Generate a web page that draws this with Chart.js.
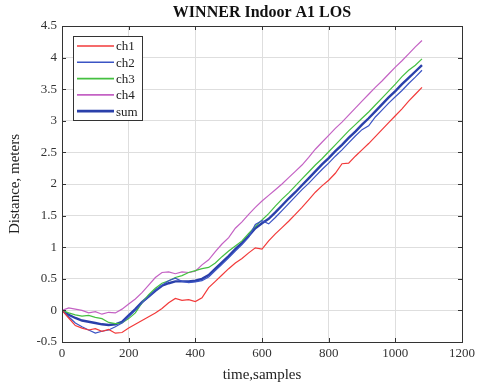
<!DOCTYPE html>
<html>
<head>
<meta charset="utf-8">
<script src="https://cdn.jsdelivr.net/npm/chart.js@4.4.1/dist/chart.umd.min.js"></script>
<style>
    html, body { margin: 0; padding: 0; background: #fff; }
    #wrap { width: 483px; height: 388px; }
</style>
</head>
<body>
<div id="wrap"><canvas id="chart" width="483" height="388"></canvas></div>
<script>
// sample index (every 20 samples)
const samples = [0, 20, 40, 60, 80, 100, 120, 140, 160, 180, 200, 220, 240, 260, 280, 300, 320, 340, 360, 380,
    400, 420, 440, 460, 480, 500, 520, 540, 560, 580, 600, 620, 640, 660, 680, 700, 720, 740, 760, 780,
    800, 820, 840, 860, 880, 900, 920, 940, 960, 980, 1000, 1020, 1040, 1060, 1080];

const ch1 = [0, -0.12, -0.24, -0.28, -0.31, -0.29, -0.33, -0.30, -0.36, -0.35, -0.28, -0.22, -0.16, -0.10, -0.04, 0.03, 0.12, 0.19, 0.16, 0.17,
    0.14, 0.20, 0.36, 0.46, 0.56, 0.66, 0.75, 0.82, 0.91, 0.99, 0.97, 1.10, 1.21, 1.31, 1.41, 1.52, 1.63, 1.75, 1.87, 1.97,
    2.06, 2.17, 2.32, 2.33, 2.44, 2.54, 2.64, 2.75, 2.86, 2.97, 3.08, 3.19, 3.31, 3.42, 3.53];

const ch2 = [0, -0.10, -0.20, -0.26, -0.31, -0.36, -0.33, -0.31, -0.26, -0.20, -0.10, 0.00, 0.12, 0.22, 0.32, 0.40, 0.47, 0.51, 0.46, 0.44,
    0.45, 0.47, 0.53, 0.63, 0.73, 0.83, 0.94, 1.04, 1.16, 1.36, 1.42, 1.37, 1.47, 1.58, 1.69, 1.80, 1.91, 2.01, 2.12, 2.23,
    2.33, 2.44, 2.54, 2.65, 2.76, 2.86, 2.92, 3.06, 3.17, 3.28, 3.38, 3.48, 3.59, 3.69, 3.80];

const ch3 = [0, -0.04, -0.07, -0.09, -0.08, -0.11, -0.13, -0.19, -0.21, -0.20, -0.13, -0.04, 0.12, 0.25, 0.35, 0.43, 0.47, 0.52, 0.55, 0.60,
    0.63, 0.66, 0.68, 0.75, 0.85, 0.94, 1.02, 1.10, 1.22, 1.33, 1.43, 1.53, 1.65, 1.76, 1.86, 1.97, 2.08, 2.19, 2.30, 2.40,
    2.51, 2.62, 2.73, 2.84, 2.94, 3.04, 3.14, 3.25, 3.36, 3.47, 3.58, 3.70, 3.80, 3.88, 3.98];

const ch4 = [0, 0.04, 0.02, 0.00, -0.04, -0.02, -0.06, -0.03, -0.04, 0.02, 0.10, 0.18, 0.28, 0.40, 0.52, 0.60, 0.61, 0.58, 0.61, 0.60,
    0.62, 0.72, 0.80, 0.93, 1.05, 1.15, 1.30, 1.40, 1.52, 1.63, 1.73, 1.82, 1.91, 2.00, 2.10, 2.20, 2.30, 2.42, 2.55, 2.66,
    2.77, 2.88, 2.98, 3.09, 3.20, 3.31, 3.42, 3.53, 3.63, 3.74, 3.85, 3.95, 4.06, 4.17, 4.27];

const sum = [0, -0.07, -0.12, -0.16, -0.18, -0.20, -0.22, -0.23, -0.22, -0.18, -0.08, 0.02, 0.13, 0.22, 0.31, 0.39, 0.43, 0.46, 0.46, 0.46,
    0.47, 0.50, 0.56, 0.66, 0.76, 0.86, 0.97, 1.07, 1.18, 1.30, 1.38, 1.45, 1.55, 1.66, 1.77, 1.87, 1.98, 2.09, 2.20, 2.31,
    2.41, 2.52, 2.62, 2.73, 2.83, 2.94, 3.04, 3.15, 3.26, 3.37, 3.47, 3.58, 3.68, 3.78, 3.88];

const seriesNames = ["ch1", "ch2", "ch3", "ch4", "sum"];
const seriesValues = [ch1, ch2, ch3, ch4, sum];
const seriesColors = ["#f23a3a", "#3b54c4", "#45c040", "#c462c4", "#2a40aa"];
const seriesWidths = [1.2, 1.2, 1.2, 1.2, 2.4];

const xTicks = [0, 200, 400, 600, 800, 1000, 1200];
const yTicks = [-0.5, 0, 0.5, 1, 1.5, 2, 2.5, 3, 3.5, 4, 4.5];

const FONT = "'Liberation Serif', 'Times New Roman', serif";

const datasets = seriesNames.map((name, i) => ({
    label: name,
    data: samples.map((s, j) => ({ x: s, y: seriesValues[i][j] })),
    borderColor: seriesColors[i],
    backgroundColor: seriesColors[i],
    borderWidth: seriesWidths[i],
    pointRadius: 0,
    tension: 0,
    fill: false
}));

// matlab-like box, inward ticks, title and legend
const matlabBox = {
    id: 'matlabBox',
    afterDraw(chart) {
        const { ctx, chartArea: a, scales } = chart;
        ctx.save();
        ctx.strokeStyle = '#333';
        ctx.lineWidth = 1;
        ctx.strokeRect(a.left + 0.5, a.top + 0.5, a.right - a.left, a.bottom - a.top);

        ctx.beginPath();
        xTicks.forEach(v => {
            const px = Math.round(scales.x.getPixelForValue(v)) + 0.5;
            ctx.moveTo(px, a.bottom); ctx.lineTo(px, a.bottom - 4);
            ctx.moveTo(px, a.top); ctx.lineTo(px, a.top + 4);
        });
        yTicks.forEach(v => {
            const py = Math.round(scales.y.getPixelForValue(v)) + 0.5;
            ctx.moveTo(a.left, py); ctx.lineTo(a.left + 4, py);
            ctx.moveTo(a.right, py); ctx.lineTo(a.right - 4, py);
        });
        ctx.stroke();

        // title
        ctx.fillStyle = '#111';
        ctx.font = "bold 16px " + FONT;
        ctx.textAlign = 'center';
        ctx.textBaseline = 'middle';
        ctx.fillText('WINNER Indoor A1 LOS', (a.left + a.right) / 2, 13);

        // legend
        const lx = 73, ly = 36, lw = 69, lh = 84;
        ctx.fillStyle = '#fff';
        ctx.fillRect(lx, ly, lw, lh);
        ctx.strokeStyle = '#333';
        ctx.strokeRect(lx + 0.5, ly + 0.5, lw, lh);
        ctx.font = "13px " + FONT;
        ctx.textAlign = 'left';
        chart.data.datasets.forEach((ds, i) => {
            const y = ly + 10 + i * 16.3;
            ctx.strokeStyle = ds.borderColor;
            ctx.lineWidth = ds.borderWidth + 0.4;
            ctx.beginPath();
            ctx.moveTo(lx + 4, y); ctx.lineTo(lx + 41, y);
            ctx.stroke();
            ctx.fillStyle = '#222';
            ctx.fillText(ds.label, lx + 43, y + 1);
        });
        ctx.restore();
    }
};

new Chart(document.getElementById('chart'), {
    type: 'line',
    data: { datasets },
    options: {
        responsive: false,
        animation: false,
        layout: { padding: { top: 26, right: 21, left: 0, bottom: 0 } },
        scales: {
            x: {
                type: 'linear',
                min: 0,
                max: 1200,
                afterFit: s => { s.height = 46; },
                afterBuildTicks: s => { s.ticks = xTicks.map(v => ({ value: v })); },
                ticks: {
                    callback: v => String(v),
                    color: '#333',
                    font: { family: FONT, size: 13 },
                    padding: 4,
                    maxRotation: 0
                },
                grid: { color: '#dedede', drawTicks: false },
                border: { color: '#333' },
                title: {
                    display: true,
                    text: 'time,samples',
                    color: '#222',
                    font: { family: FONT, size: 15 },
                    padding: { top: 2 }
                }
            },
            y: {
                min: -0.5,
                max: 4.5,
                afterFit: s => { s.width = 62; },
                afterBuildTicks: s => { s.ticks = yTicks.map(v => ({ value: v })); },
                ticks: {
                    callback: v => String(v),
                    color: '#333',
                    font: { family: FONT, size: 13 },
                    padding: 5
                },
                grid: { color: '#dedede', drawTicks: false },
                border: { color: '#333' },
                title: {
                    display: true,
                    text: 'Distance, meters',
                    color: '#222',
                    font: { family: FONT, size: 15 },
                    padding: { top: 6, bottom: 4 }
                }
            }
        },
        plugins: {
            legend: { display: false },
            title: { display: false },
            tooltip: { enabled: false }
        }
    },
    plugins: [matlabBox]
});
</script>
</body>
</html>
